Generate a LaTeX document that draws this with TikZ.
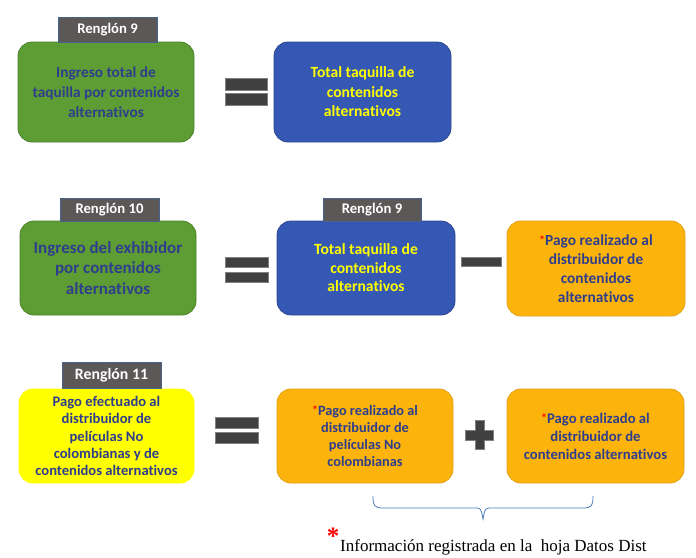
\documentclass[tikz,border=0pt]{standalone}
\usepackage{fontspec}
\setmainfont{Carlito}[Ligatures=NoCommon]
\newfontfamily\notefont{Liberation Serif}
\definecolor{cgreen}{RGB}{94,157,52}
\definecolor{cgreenD}{RGB}{76,128,44}
\definecolor{cblue}{RGB}{52,88,180}
\definecolor{cblueD}{RGB}{44,72,140}
\definecolor{corange}{RGB}{252,180,12}
\definecolor{corangeD}{RGB}{225,160,20}
\definecolor{cyel}{RGB}{255,255,0}
\definecolor{ctext}{RGB}{47,62,140}
\definecolor{ctag}{RGB}{92,88,88}
\definecolor{ctagB}{RGB}{70,100,140}
\definecolor{cbar}{RGB}{64,64,64}
\definecolor{cbarB}{RGB}{128,128,128}
\definecolor{cbrace}{RGB}{74,126,187}
\newcommand{\redast}{\textcolor{red}{\raisebox{0.5pt}{\fontsize{12}{12}\selectfont *}}}
\begin{document}
\begin{tikzpicture}[x=1pt,y=-1pt,
  box/.style={rounded corners=14pt, draw, line width=0.8pt, align=center, inner sep=0pt},
  gbox/.style={box, fill=cgreen, draw=cgreenD, text=ctext},
  bbox/.style={box, fill=cblue, draw=cblueD, text=cyel},
  obox/.style={box, fill=corange, draw=corangeD, text=ctext},
  ybox/.style={box, fill=cyel, draw=cyel, text=ctext},
  tag/.style={fill=ctag, draw=ctagB, line width=0.6pt, text=white, inner sep=0pt, minimum width=99pt},
  bar/.style={fill=cbar, draw=cbarB, line width=1pt, inner sep=0pt},
  bracestyle/.style={draw=cbrace, line width=0.8pt}
]
\useasboundingbox (0,0) rectangle (696,557);

% Row 1
\node[gbox, minimum width=176pt, minimum height=100pt, font={\bfseries\fontsize{15.3}{20}\selectfont}] (g1) at (106,92)
  {Ingreso total de\\taquilla por contenidos\\alternativos};
\node[tag, minimum height=25pt, font={\bfseries\fontsize{14.7}{14.7}\selectfont}] (t1) at (107.5,29.5) {Renglón 9};
\node[bar, minimum width=42pt, minimum height=12pt] (eq1a) at (246,84) {};
\node[bar, minimum width=42pt, minimum height=12pt] (eq1b) at (246,99) {};
\node[bbox, minimum width=177pt, minimum height=100pt, font={\bfseries\fontsize{15.6}{19.5}\selectfont}] (b1) at (362.5,92)
  {Total taquilla de\\contenidos\\alternativos};

% Row 2
\node[gbox, minimum width=176pt, minimum height=94pt, font={\bfseries\fontsize{17}{20.5}\selectfont}] (g2) at (108,268)
  {Ingreso del exhibidor\\por contenidos\\alternativos};
\node[tag, minimum height=23pt, font={\bfseries\fontsize{14.7}{14.7}\selectfont}] (t2) at (109.5,209.5) {Renglón 10};
\node[bar, minimum width=43pt, minimum height=10pt] (eq2a) at (246.5,262) {};
\node[bar, minimum width=43pt, minimum height=10pt] (eq2b) at (246.5,277) {};
\node[bbox, minimum width=178pt, minimum height=94pt, font={\bfseries\fontsize{15.6}{18.5}\selectfont}] (b2) at (366,268)
  {Total taquilla de\\contenidos\\alternativos};
\node[tag, minimum width=98pt, minimum height=23pt, font={\bfseries\fontsize{14.7}{14.7}\selectfont}] (t3) at (372,209.5) {Renglón 9};
\node[bar, minimum width=40pt, minimum height=9pt] (minus) at (481,261.5) {};
\node[obox, minimum width=178pt, minimum height=95pt, font={\bfseries\fontsize{15.4}{19}\selectfont}] (o1) at (596,268.5)
  {\redast Pago realizado al\\distribuidor de\\contenidos\\alternativos};

% Row 3
\node[ybox, minimum width=175pt, minimum height=94pt, font={\bfseries\fontsize{14.6}{17.2}\selectfont}] (y1) at (106.5,436)
  {Pago efectuado al\\distribuidor de\\películas No\\colombianas y de\\contenidos alternativos};
\node[tag, minimum height=26pt, line width=1pt, font={\bfseries\fontsize{15.8}{15.8}\selectfont}] (t4) at (111.5,375) {Renglón 11};
\node[bar, minimum width=43pt, minimum height=11pt] (eq3a) at (236.5,422.5) {};
\node[bar, minimum width=43pt, minimum height=11pt] (eq3b) at (236.5,437.5) {};
\node[obox, minimum width=176pt, minimum height=94pt, font={\bfseries\fontsize{14.3}{17.3}\selectfont}] (o2) at (365,436)
  {\redast Pago realizado al\\distribuidor de\\películas No\\colombianas};
\filldraw[bar] (465,430) -- (475,430) -- (475,420) -- (484,420) -- (484,430) -- (493,430) -- (493,440)
  -- (484,440) -- (484,449) -- (475,449) -- (475,440) -- (465,440) -- cycle;
\node[obox, minimum width=177pt, minimum height=94pt, font={\bfseries\fontsize{14.7}{18}\selectfont}] (o3) at (595.5,436)
  {\redast Pago realizado al\\distribuidor de\\contenidos alternativos};

% Brace
\draw[bracestyle] (373,496) .. controls (373,506) and (374,508) .. (384,508) -- (474,508)
  .. controls (481,508) .. (483,519) .. controls (485,508) .. (492,508) -- (582,508)
  .. controls (592,508) and (593,506) .. (593,496);

% Note
\node[anchor=base west, inner sep=0pt, font={\notefont\fontsize{17}{17}\selectfont}] (note) at (340,551)
  {Información registrada en la\ \ hoja Datos Dist};
\node[anchor=base, inner sep=0pt, text=red, font={\notefont\bfseries\fontsize{25}{25}\selectfont}] (ast) at (333,544.5) {*};
\end{tikzpicture}
\end{document}
